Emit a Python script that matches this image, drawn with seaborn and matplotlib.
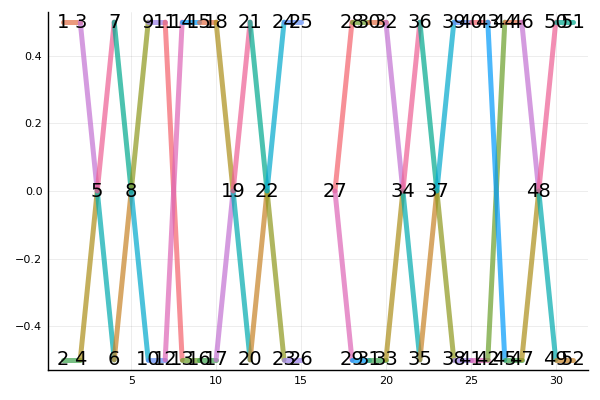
import numpy as np
import pandas as pd
import matplotlib
matplotlib.use('Agg')
import matplotlib.pyplot as plt
import seaborn as sns

# Node positions (node n is at index n-1), labelled 1..52
node_x = [1, 1, 2, 2, 3, 4, 4, 5, 6, 6,
          7, 7, 8, 8, 9, 9, 10, 10, 11, 12,
          12, 13, 14, 14, 15, 15, 17, 18, 18, 19,
          19, 20, 20, 21, 22, 22, 23, 24, 24, 25,
          25, 26, 26, 27, 27, 28, 28, 29, 30, 30,
          31, 31]
node_y = [0.5, -0.5, 0.5, -0.5, 0.0, -0.5, 0.5, 0.0, 0.5, -0.5,
          0.5, -0.5, -0.5, 0.5, 0.5, -0.5, -0.5, 0.5, 0.0, -0.5,
          0.5, 0.0, -0.5, 0.5, 0.5, -0.5, 0.0, 0.5, -0.5, 0.5,
          -0.5, 0.5, -0.5, 0.0, -0.5, 0.5, 0.0, -0.5, 0.5, 0.5,
          -0.5, -0.5, 0.5, 0.5, -0.5, 0.5, -0.5, 0.0, -0.5, 0.5,
          0.5, -0.5]

# Edges, in drawing order
edge_from = [1, 2, 3, 4, 5, 5, 6, 7, 8, 8, 9, 10, 11, 12, 13, 14, 15, 16,
             17, 18, 19, 19, 20, 21, 22, 22, 23, 24,
             27, 27, 28, 29, 30, 31, 32, 33, 34, 34, 35, 36, 37, 37, 38, 39,
             40, 41, 42, 43, 44, 45, 46, 47, 48, 48, 49, 50]
edge_to = [3, 4, 5, 5, 6, 7, 8, 8, 9, 10, 11, 12, 13, 14, 16, 15, 18, 17,
           19, 19, 20, 21, 22, 22, 23, 24, 26, 25,
           28, 29, 30, 31, 32, 33, 34, 34, 35, 36, 37, 37, 38, 39, 41, 40,
           43, 42, 44, 45, 46, 47, 48, 48, 49, 50, 52, 51]

# Plots.jl-like default palette
palette16 = ['#009AFA', '#E36F47', '#3EA44E', '#C371D2', '#AC8E18', '#00AAAE',
             '#ED5E93', '#C68225', '#00A98D', '#8E971D', '#00A9CD', '#9B7FE9',
             '#618DF6', '#F4616B', '#DD64B5', '#6A9E2A']

rows = []
for i, (a, b) in enumerate(zip(edge_from, edge_to)):
    rows.append({'edge': i, 'x': node_x[a - 1], 'y': node_y[a - 1]})
    rows.append({'edge': i, 'x': node_x[b - 1], 'y': node_y[b - 1]})
df = pd.DataFrame(rows)
colors = {i: palette16[(i + 1) % 16] for i in range(len(edge_from))}

sns.set_style('white')
fig, ax = plt.subplots(figsize=(6, 4), dpi=100)
fig.subplots_adjust(left=0.08, right=0.98, top=0.97, bottom=0.075)

sns.lineplot(data=df, x='x', y='y', hue='edge', palette=colors, hue_order=list(range(len(edge_from))),
             sort=False, estimator=None, legend=False, linewidth=3.6, alpha=0.7,
             solid_capstyle='round', ax=ax)

for n, (x, y) in enumerate(zip(node_x, node_y), start=1):
    ax.text(x, y, str(n), fontsize=14, ha='center', va='center', color='black', zorder=5)

ax.set_xlim(0.1, 31.9)
ax.set_ylim(-0.53, 0.53)
ax.set_xticks([5, 10, 15, 20, 25, 30])
ax.set_yticks([-0.4, -0.2, 0.0, 0.2, 0.4])
ax.set_yticklabels(['\u22120.4', '\u22120.2', '0.0', '0.2', '0.4'])
ax.set_xlabel('')
ax.set_ylabel('')
ax.tick_params(direction='in', length=4, width=0.8, labelsize=8, colors='black', pad=4)
ax.grid(True, color='black', alpha=0.1, linewidth=0.5)
for s in ['top', 'right']:
    ax.spines[s].set_visible(False)
for s in ['left', 'bottom']:
    ax.spines[s].set_color('black')
    ax.spines[s].set_linewidth(1)

plt.savefig('out.png', dpi=100)
